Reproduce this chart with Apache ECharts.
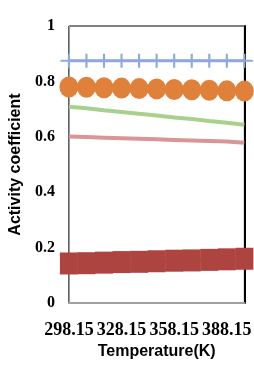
<!DOCTYPE html>
<html>
<head>
<meta charset="utf-8">
<script src="https://cdn.jsdelivr.net/npm/echarts@6/dist/echarts.min.js"></script>
<style>
  html, body { margin: 0; padding: 0; background: #fff; }
  #chart { width: 254px; height: 365px; }
</style>
</head>
<body>
<div id="chart"></div>
<script>
// temperatures (K)
const temperatures = ['298.15', '308.15', '318.15', '328.15', '338.15', '348.15', '358.15', '368.15', '378.15', '388.15', '398.15']
// activity coefficients, one array per series
const blueSeries = [0.875, 0.875, 0.875, 0.875, 0.875, 0.875, 0.875, 0.875, 0.875, 0.875, 0.875]
const orangeSeries = [0.78, 0.779, 0.777, 0.776, 0.774, 0.773, 0.771, 0.77, 0.768, 0.766, 0.765]
const greenSeries = [0.709, 0.703, 0.696, 0.69, 0.683, 0.677, 0.67, 0.664, 0.657, 0.651, 0.644]
const pinkSeries = [0.601, 0.599, 0.597, 0.595, 0.593, 0.591, 0.589, 0.587, 0.585, 0.583, 0.579]
const redSeries = [0.143, 0.144, 0.146, 0.148, 0.149, 0.151, 0.153, 0.154, 0.156, 0.158, 0.16]

const chart = echarts.init(document.getElementById('chart'))
chart.setOption({
  backgroundColor: '#fff',
  animation: false,
  grid: {
    left: 63,
    right: 9,
    top: 26,
    bottom: 58,
    show: true,
    borderColor: '#000',
    borderWidth: 1
  },
  xAxis: {
    type: 'category',
    boundaryGap: false,
    data: temperatures,
    name: 'Temperature(K)',
    nameLocation: 'middle',
    nameGap: 38,
    nameTextStyle: {
      fontFamily: 'Liberation Sans',
      fontWeight: 'bold',
      fontSize: 16,
      color: '#000',
      verticalAlign: 'top'
    },
    axisLine: { lineStyle: { color: '#a0a0a0', width: 2 } },
    axisTick: { show: false },
    axisLabel: {
      interval: 2,
      margin: 18,
      fontFamily: 'Liberation Sans Narrow',
      fontWeight: 'bold',
      fontSize: 18,
      color: '#000'
    },
    splitLine: { show: false }
  },
  yAxis: [{
    type: 'value',
    min: 0,
    max: 1,
    interval: 0.2,
    name: 'Activity coefficient',
    nameLocation: 'middle',
    nameGap: 33,
    nameTextStyle: {
      fontFamily: 'Liberation Sans',
      fontWeight: 'bold',
      fontSize: 16,
      color: '#000'
    },
    axisLine: { show: true, lineStyle: { color: '#999', width: 1 } },
    axisTick: { show: false },
    axisLabel: {
      margin: 14,
      fontFamily: 'Liberation Serif',
      fontWeight: 'bold',
      fontSize: 16,
      color: '#000'
    },
    splitLine: { show: false }
  }, {
    type: 'value',
    position: 'right',
    min: 0,
    max: 1,
    interval: 0.2,
    axisLine: { show: true, lineStyle: { color: '#000', width: 2 } },
    axisTick: { show: false },
    axisLabel: { show: false },
    splitLine: { show: false }
  }],
  series: [
    {
      name: 'red',
      type: 'line',
      data: redSeries,
      symbol: 'rect',
      symbolSize: [18, 22],
      showAllSymbol: true,
      clip: false,
      itemStyle: { color: '#ad4440' },
      lineStyle: { color: '#ad4440', width: 2 }
    },
    {
      name: 'pink',
      type: 'line',
      data: pinkSeries,
      showSymbol: false,
      lineStyle: { color: '#d99694', width: 4 }
    },
    {
      name: 'green',
      type: 'line',
      data: greenSeries,
      showSymbol: false,
      lineStyle: { color: '#a9d18e', width: 4 }
    },
    {
      name: 'orange',
      type: 'line',
      data: orangeSeries,
      symbol: 'circle',
      symbolSize: [19, 21],
      showAllSymbol: true,
      clip: false,
      itemStyle: { color: '#e0813b' },
      lineStyle: { color: '#e0813b', width: 2 }
    },
    {
      name: 'blue',
      type: 'line',
      data: blueSeries,
      symbol: 'path://M0,6h16v2h-16z M7,0h2v14h-2z',
      symbolSize: [17, 14],
      showAllSymbol: true,
      clip: false,
      itemStyle: { color: '#8eaad8' },
      lineStyle: { color: '#8eaad8', width: 3 }
    }
  ]
})
</script>
</body>
</html>
